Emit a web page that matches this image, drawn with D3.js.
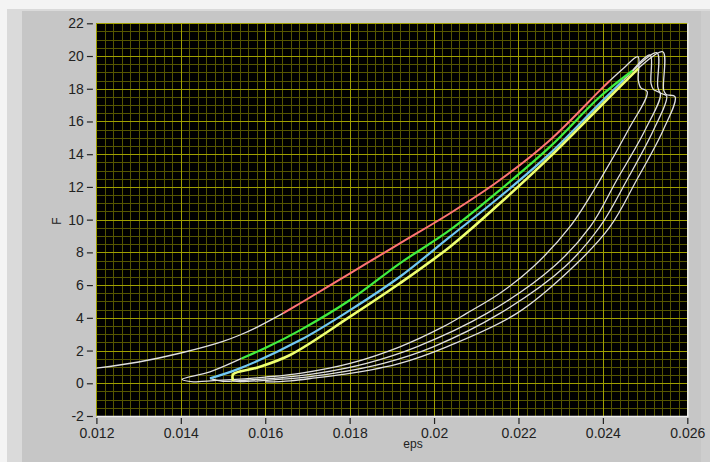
<!DOCTYPE html>
<html>
<head>
<meta charset="utf-8">
<script src="https://cdn.jsdelivr.net/npm/d3@7"></script>
<style>
  body { margin: 0; background: #f4f4f4; }
  svg { display: block; font-family: "Liberation Sans", Arial, sans-serif; }
</style>
</head>
<body>
<svg id="chart" width="710" height="462"></svg>
<script>
// tick labels
const xTicks = [0.012, 0.014, 0.016, 0.018, 0.02, 0.022, 0.024, 0.026];
const yTicks = [-2, 0, 2, 4, 6, 8, 10, 12, 14, 16, 18, 20, 22];

// white pieces of the record: [eps, F]
const whiteLead = [[0.012, 0.92], [0.013, 1.3], [0.014, 1.85], [0.015, 2.56], [0.0154, 2.95], [0.0158, 3.42], [0.01642, 4.27]];
const whiteLoop1 = [[0.02417, 18.5], [0.02449, 19.25], [0.02483, 19.96], [0.02484, 18.5], [0.0249, 18.05], [0.02505, 17.82],
  [0.0246, 15.48], [0.02393, 12.42], [0.02322, 9.57], [0.02235, 7.12], [0.02156, 5.5], [0.02077, 4.27], [0.02022, 3.46],
  [0.01919, 2.23], [0.01801, 1.22], [0.01682, 0.61], [0.016, 0.38], [0.0152, 0.22], [0.0145, 0.12], [0.0143, 0.09],
  [0.01403, 0.24], [0.01469, 0.7], [0.01544, 1.52]];
const whiteLoop2 = [[0.0247, 19.1], [0.02512, 20.06], [0.02514, 18.33], [0.0252, 17.95], [0.02536, 17.72],
  [0.025, 15.48], [0.02433, 12.42], [0.0237, 9.57], [0.02283, 7.12], [0.02125, 4.27], [0.01959, 2.23], [0.0184, 1.22],
  [0.01722, 0.6], [0.0164, 0.35], [0.0156, 0.2], [0.015, 0.12], [0.01469, 0.3]];
const whiteLoop3 = [[0.02449, 18.53], [0.02528, 20.2], [0.0253, 18.12], [0.02536, 17.75], [0.02551, 17.56],
  [0.0252, 15.48], [0.02457, 12.42], [0.02393, 9.57], [0.0231, 7.12], [0.02156, 4.27], [0.01998, 2.23], [0.0188, 1.22],
  [0.01761, 0.6], [0.0168, 0.33], [0.016, 0.18], [0.0154, 0.1], [0.01524, 0.15]];
const whiteLoop4 = [[0.02484, 19.25], [0.02542, 20.26], [0.02544, 17.92], [0.0255, 17.65], [0.02571, 17.51],
  [0.02543, 15.48], [0.0248, 12.42], [0.02417, 9.57], [0.0233, 7.12], [0.02196, 4.27], [0.0203, 2.23], [0.01919, 1.22],
  [0.01801, 0.6], [0.0172, 0.33], [0.0166, 0.15], [0.016, 0.08]];

// coloured loading branches
const redLoad = [[0.01642, 4.27], [0.01683, 4.89], [0.01801, 6.72], [0.01919, 8.55], [0.02038, 10.39], [0.02156, 12.42],
  [0.02275, 14.87], [0.02393, 17.9], [0.02417, 18.5]];
const greenLoad = [[0.01544, 1.52], [0.016, 2.15], [0.01683, 3.25], [0.01801, 5.09], [0.01919, 7.33], [0.02038, 9.37],
  [0.02156, 11.81], [0.02275, 14.46], [0.02393, 17.51], [0.0247, 19.1]];
const blueLoad = [[0.01469, 0.3], [0.0154, 0.91], [0.01683, 2.64], [0.01801, 4.47], [0.01919, 6.51], [0.02038, 8.96],
  [0.02156, 11.4], [0.02275, 14.05], [0.02393, 17.11], [0.02449, 18.53]];
const yellowLoad = [[0.01524, 0.15], [0.01524, 0.55], [0.0158, 0.95], [0.01659, 1.73], [0.01801, 4.07], [0.01919, 6.11],
  [0.02038, 8.35], [0.02156, 11.0], [0.02275, 13.85], [0.02393, 16.9], [0.02484, 19.25]];

const svg = d3.select("#chart");
const W = 710, H = 462;
const plot = { left: 96.4, right: 687.3, top: 23.3, bottom: 416 };

// panel background with the light edges
svg.append("rect").attr("x", 0).attr("y", 0).attr("width", W).attr("height", H).attr("fill", "#f4f4f4");
svg.append("rect").attr("x", 7).attr("y", 9).attr("width", W - 7).attr("height", H - 9).attr("fill", "#dadada");
svg.append("rect").attr("x", 22).attr("y", 11).attr("width", W - 31).attr("height", H - 11).attr("fill", "#c6c6c6");
svg.append("rect").attr("x", 701).attr("y", 11).attr("width", 9).attr("height", H - 11).attr("fill", "#cdcdcd");

// scales
const x = d3.scaleLinear().domain([0.012, 0.026]).range([plot.left, plot.right]);
const y = d3.scaleLinear().domain([-2, 22]).range([plot.bottom, plot.top]);

// plot area
svg.append("rect")
  .attr("x", plot.left).attr("y", plot.top)
  .attr("width", plot.right - plot.left).attr("height", plot.bottom - plot.top)
  .attr("fill", "#000");

const grid = svg.append("g").attr("class", "grid");
grid.selectAll(".vminor").data(x.ticks(70)).enter().append("line")
  .attr("x1", d => Math.round(x(d)) + 0.5).attr("x2", d => Math.round(x(d)) + 0.5)
  .attr("y1", plot.top).attr("y2", plot.bottom)
  .attr("stroke", "#565600").attr("stroke-width", 1);
grid.selectAll(".hminor").data(y.ticks(48)).enter().append("line")
  .attr("y1", d => Math.round(y(d)) + 0.5).attr("y2", d => Math.round(y(d)) + 0.5)
  .attr("x1", plot.left).attr("x2", plot.right)
  .attr("stroke", "#565600").attr("stroke-width", 1);
grid.selectAll(".vmajor").data(xTicks).enter().append("line")
  .attr("x1", d => Math.round(x(d)) + 0.5).attr("x2", d => Math.round(x(d)) + 0.5)
  .attr("y1", plot.top).attr("y2", plot.bottom)
  .attr("stroke", "#a0a000").attr("stroke-width", 1);
grid.selectAll(".hmajor").data(yTicks).enter().append("line")
  .attr("y1", d => Math.round(y(d)) + 0.5).attr("y2", d => Math.round(y(d)) + 0.5)
  .attr("x1", plot.left).attr("x2", plot.right)
  .attr("stroke", "#a0a000").attr("stroke-width", 1);

// light bevel on right and bottom of the plot
svg.append("path")
  .attr("d", `M${plot.right + 0.5},${plot.top} V${plot.bottom + 0.5} H${plot.left}`)
  .attr("fill", "none").attr("stroke", "#efefef").attr("stroke-width", 1.5);

// curves
const line = d3.line()
  .x(d => x(d[0]))
  .y(d => y(d[1]))
  .curve(d3.curveCatmullRom.alpha(0.5));

const curves = svg.append("g");

[whiteLead, whiteLoop1, whiteLoop2, whiteLoop3, whiteLoop4].forEach(seg => {
  curves.append("path")
    .datum(seg)
    .attr("fill", "none")
    .attr("stroke", "#e0e0e0")
    .attr("stroke-width", 1.3)
    .attr("d", line);
});

const coloured = [
  { data: redLoad, color: "#ff7474", w: 2 },
  { data: greenLoad, color: "#40ee40", w: 2.2 },
  { data: blueLoad, color: "#70c8f4", w: 2.2 },
  { data: yellowLoad, color: "#eeff70", w: 2.6 }
];
coloured.forEach(c => {
  curves.append("path")
    .datum(c.data)
    .attr("fill", "none")
    .attr("stroke", c.color)
    .attr("stroke-width", c.w)
    .attr("d", line);
});

// axes
const yAxis = d3.axisLeft(y)
  .tickValues(yTicks)
  .tickSize(6)
  .tickPadding(3)
  .tickFormat(d => String(d));

const yAxisGroup = svg.append("g")
  .attr("transform", `translate(${plot.left - 3.5}, 0)`)
  .call(yAxis);

const xAxis = d3.axisBottom(x)
  .tickValues(xTicks)
  .tickSize(6)
  .tickPadding(4)
  .tickFormat(d => String(d));

const xAxisGroup = svg.append("g")
  .attr("transform", `translate(0, ${plot.bottom + 2})`)
  .call(xAxis);

[yAxisGroup, xAxisGroup].forEach(g => {
  g.select(".domain").remove();
  g.selectAll(".tick line").attr("stroke", "#222").attr("stroke-width", 1.2);
  g.selectAll(".tick text").attr("fill", "#222").style("font-size", "14px");
});

// axis labels
svg.append("text")
  .attr("transform", "translate(61, 221) rotate(-90)")
  .attr("text-anchor", "middle")
  .attr("fill", "#222")
  .style("font-size", "12px")
  .text("F");

svg.append("text")
  .attr("x", 413).attr("y", 448)
  .attr("text-anchor", "middle")
  .attr("fill", "#222")
  .style("font-size", "12px")
  .text("eps");
</script>
</body>
</html>
